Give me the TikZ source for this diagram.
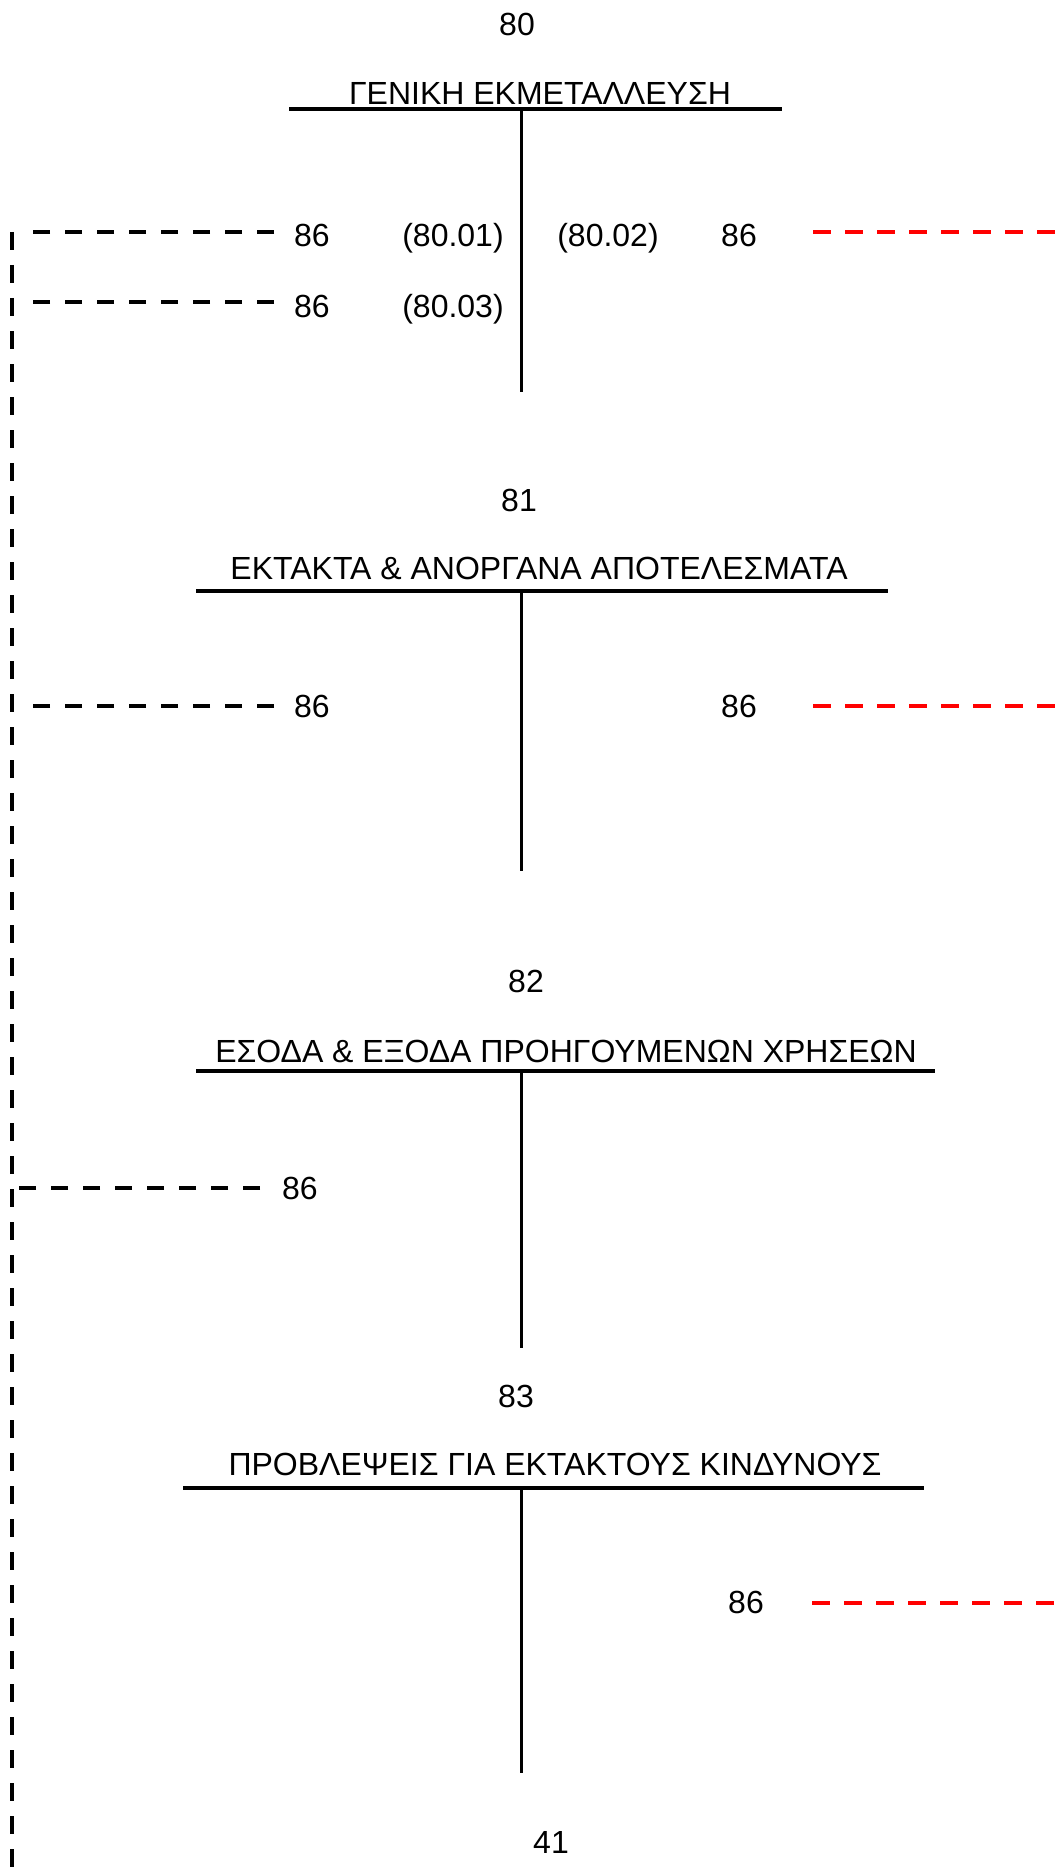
\documentclass[tikz,border=0pt]{standalone}
\usepackage{fontspec}
\setmainfont{Liberation Sans}
\begin{document}
\begin{tikzpicture}[x=1pt,y=-1pt,
  lbl/.style={anchor=base,inner sep=0pt,font=\fontsize{32}{38}\selectfont},
  tbar/.style={line width=4pt},
  tstem/.style={line width=3pt},
  blk/.style={line width=4pt,dash pattern=on 17pt off 15pt},
  redd/.style={line width=4pt,red,dash pattern=on 18pt off 14pt},
  spine/.style={line width=4.5pt,dash pattern=on 18pt off 15pt}]
\useasboundingbox (0,0) rectangle (1063,1867);

% left spine
\coordinate (sp0) at (12,232);
\coordinate (sp1) at (12,1867);
\draw[spine] (sp0) -- (sp1);

% ---------- 80 ----------
\node[lbl] (n80) at (517,35.6) {80};
\node[lbl] (t80) at (540,105) {ΓΕΝΙΚΗ ΕΚΜΕΤΑΛΛΕΥΣΗ};
\coordinate (b80l) at (289,109.5);
\coordinate (b80r) at (782,109.5);
\coordinate (s80t) at (521,109.5);
\coordinate (s80b) at (521,392);
\draw[tbar] (b80l) -- (b80r);
\draw[tstem] (s80t) -- (s80b);

\node[lbl] (r1a) at (312,247) {86};
\node[lbl] (r1b) at (453,247) {(80.01)};
\node[lbl] (r1c) at (608,247) {(80.02)};
\node[lbl] (r1d) at (739,247) {86};
\coordinate (r1l0) at (274,232);
\coordinate (r1l1) at (25,232);
\coordinate (r1r0) at (813,232);
\coordinate (r1r1) at (1063,232);
\draw[blk] (r1l0) -- (r1l1);
\draw[redd] (r1r0) -- (r1r1);

\node[lbl] (r2a) at (312,317) {86};
\node[lbl] (r2b) at (453,317) {(80.03)};
\coordinate (r2l0) at (274,302.5);
\coordinate (r2l1) at (25,302.5);
\draw[blk] (r2l0) -- (r2l1);

% ---------- 81 ----------
\node[lbl] (n81) at (519,511) {81};
\node[lbl] (t81) at (539,579) {ΕΚΤΑΚΤΑ \& ΑΝΟΡΓΑΝΑ ΑΠΟΤΕΛΕΣΜΑΤΑ};
\coordinate (b81l) at (196,591);
\coordinate (b81r) at (888,591);
\coordinate (s81t) at (521,591);
\coordinate (s81b) at (521,871);
\draw[tbar] (b81l) -- (b81r);
\draw[tstem] (s81t) -- (s81b);

\node[lbl] (r3a) at (312,717) {86};
\node[lbl] (r3d) at (739,717) {86};
\coordinate (r3l0) at (274,706);
\coordinate (r3l1) at (25,706);
\coordinate (r3r0) at (813,706);
\coordinate (r3r1) at (1063,706);
\draw[blk] (r3l0) -- (r3l1);
\draw[redd] (r3r0) -- (r3r1);

% ---------- 82 ----------
\node[lbl] (n82) at (526,992) {82};
\node[lbl] (t82) at (566,1062) {ΕΣΟΔΑ \& ΕΞΟΔΑ ΠΡΟΗΓΟΥΜΕΝΩΝ ΧΡΗΣΕΩΝ};
\coordinate (b82l) at (196,1070.7);
\coordinate (b82r) at (935,1070.7);
\coordinate (s82t) at (521,1070.7);
\coordinate (s82b) at (521,1348);
\draw[tbar] (b82l) -- (b82r);
\draw[tstem] (s82t) -- (s82b);

\node[lbl] (r4a) at (300,1199) {86};
\coordinate (r4l0) at (260,1188);
\coordinate (r4l1) at (12,1188);
\draw[blk] (r4l0) -- (r4l1);

% ---------- 83 ----------
\node[lbl] (n83) at (516,1407) {83};
\node[lbl] (t83) at (555,1475) {ΠΡΟΒΛΕΨΕΙΣ ΓΙΑ ΕΚΤΑΚΤΟΥΣ ΚΙΝΔΥΝΟΥΣ};
\coordinate (b83l) at (183,1488);
\coordinate (b83r) at (924,1488);
\coordinate (s83t) at (521,1488);
\coordinate (s83b) at (521,1773);
\draw[tbar] (b83l) -- (b83r);
\draw[tstem] (s83t) -- (s83b);

\node[lbl] (r5d) at (746,1613) {86};
\coordinate (r5r0) at (812,1603);
\coordinate (r5r1) at (1063,1603);
\draw[redd] (r5r0) -- (r5r1);

\node[lbl] (n41) at (551,1853) {41};
\end{tikzpicture}
\end{document}
